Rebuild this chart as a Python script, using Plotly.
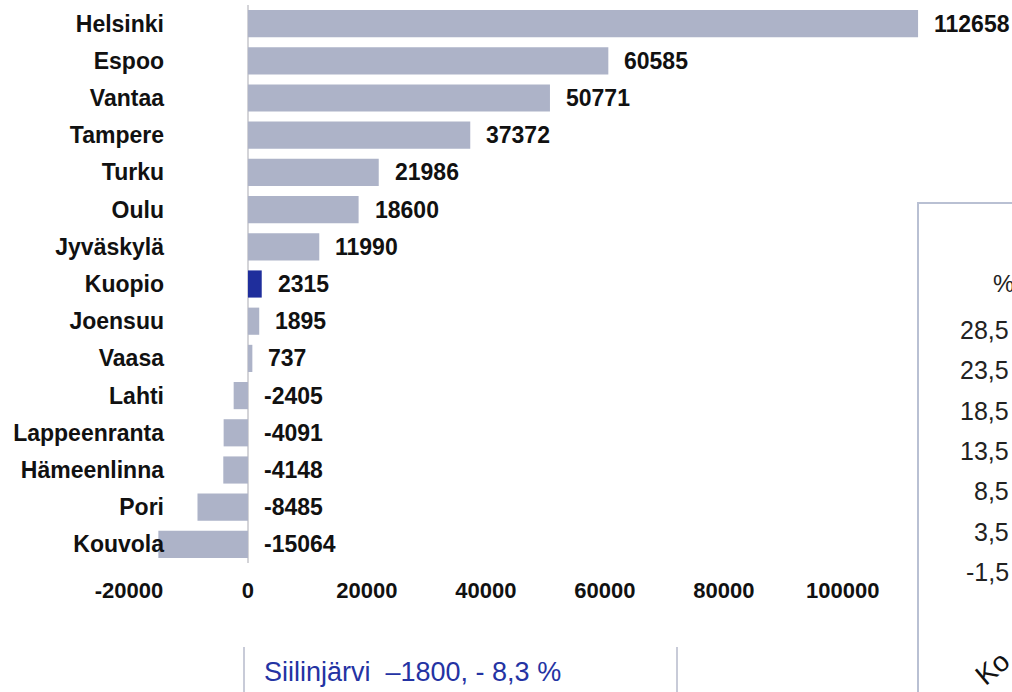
import plotly.graph_objects as go

cities = ["Helsinki", "Espoo", "Vantaa", "Tampere", "Turku", "Oulu", "Jyväskylä",
          "Kuopio", "Joensuu", "Vaasa", "Lahti", "Lappeenranta", "Hämeenlinna",
          "Pori", "Kouvola"]
values = [112658, 60585, 50771, 37372, 21986, 18600, 11990, 2315, 1895, 737,
          -2405, -4091, -4148, -8485, -15064]
highlight = "Kuopio"
x_ticks = [-20000, 0, 20000, 40000, 60000, 80000, 100000]
side_pct_labels = ["28,5", "23,5", "18,5", "13,5", "8,5", "3,5", "-1,5"]
note_text = "Siilinjärvi\u00a0\u00a0–1800, - 8,3 %"

W, H = 1012, 692
ML, MR, MT, MB = 129, 80, 5, 129
GREY = "#adb3c8"
BLUE = "#1f2e9c"
FONT = "Arial, Liberation Sans, sans-serif"

colors = [BLUE if c == highlight else GREY for c in cities]

fig = go.Figure()
fig.add_trace(go.Bar(
    x=values, y=cities, orientation="h",
    marker=dict(color=colors, line=dict(width=0)),
    hoverinfo="x+y",
))

annotations = []
for c, v in zip(cities, values):
    annotations.append(dict(
        x=max(v, 0), y=c, xref="x", yref="y", text=str(v), showarrow=False,
        xanchor="left", yanchor="middle", xshift=14,
        font=dict(family=FONT, size=23, color="#111111", weight="bold"),
    ))

pw = W - ML - MR
ph = H - MT - MB


def px(xp):
    return (xp - ML) / pw


def py(yp):
    return (H - MB - yp) / ph


# decorations from the surrounding slide
shapes = [
    dict(type="line", xref="paper", yref="paper", x0=px(918), x1=px(918), y0=py(203), y1=py(700),
         line=dict(color="#b9c0d3", width=2)),
    dict(type="line", xref="paper", yref="paper", x0=px(917), x1=px(1020), y0=py(203), y1=py(203),
         line=dict(color="#b9c0d3", width=2)),
    dict(type="line", xref="paper", yref="paper", x0=px(244), x1=px(244), y0=py(647), y1=py(700),
         line=dict(color="#c8cbd8", width=2)),
    dict(type="line", xref="paper", yref="paper", x0=px(677), x1=px(677), y0=py(647), y1=py(700),
         line=dict(color="#c8cbd8", width=2)),
]

annotations.append(dict(
    x=px(262), y=py(672), xref="paper", yref="paper", text=note_text, showarrow=False,
    xanchor="left", yanchor="middle",
    font=dict(family=FONT, size=27, color="#2433a3"),
))
annotations.append(dict(
    x=px(1016), y=py(283), xref="paper", yref="paper", text="%", showarrow=False,
    xanchor="right", yanchor="middle",
    font=dict(family=FONT, size=24, color="#222222"),
))
for i, t in enumerate(side_pct_labels):
    annotations.append(dict(
        x=px(1011), y=py(330 + i * 40.3), xref="paper", yref="paper", text=t, showarrow=False,
        xanchor="right", yanchor="middle",
        font=dict(family=FONT, size=25, color="#222222"),
    ))
annotations.append(dict(
    x=px(992), y=py(668), xref="paper", yref="paper", text="Ko", showarrow=False,
    xanchor="center", yanchor="middle", textangle=-40,
    font=dict(family=FONT, size=28, color="#111111"),
))

fig.update_layout(
    width=W, height=H,
    margin=dict(l=ML, r=MR, t=MT, b=MB, pad=0),
    paper_bgcolor="white", plot_bgcolor="white",
    showlegend=False,
    bargap=0.27,
    annotations=annotations,
    shapes=shapes,
    xaxis=dict(
        range=[-20000, 115000], tickvals=x_ticks, ticktext=[str(t) for t in x_ticks],
        showgrid=False, zeroline=True, zerolinecolor="#d4d4d8", zerolinewidth=2,
        showline=False, ticks="", ticklabelstandoff=12,
        tickfont=dict(family=FONT, size=22, color="#111111", weight="bold"),
    ),
    yaxis=dict(
        autorange="reversed", showgrid=False, zeroline=False, showline=False,
        ticks="", ticklabelstandoff=-36,
        tickfont=dict(family=FONT, size=23, color="#111111", weight="bold"),
    ),
)

fig.write_html(
    "out.html",
    config={"displayModeBar": False},
    post_script="document.body.style.margin='0';document.body.style.overflow='hidden';",
)
